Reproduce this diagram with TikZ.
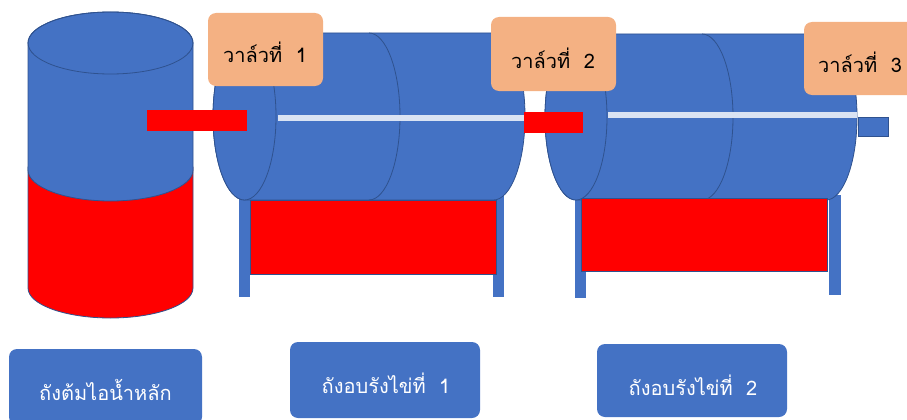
\documentclass[tikz,border=0pt]{standalone}
\usepackage{fontspec}
\newfontfamily\thaifont[Script=Thai]{Loma}
\definecolor{tankblue}{HTML}{4472C4}
\definecolor{edgeblue}{HTML}{2F528F}
\definecolor{heatred}{HTML}{FF0000}
\definecolor{tagorange}{HTML}{F4B183}
\definecolor{shaftgrey}{HTML}{DAE3F3}

\tikzset{
  shell/.style={fill=tankblue, draw=edgeblue, line width=0.8pt},
  lowshell/.style={fill=heatred, draw=edgeblue, line width=0.8pt},
  rim/.style={draw=edgeblue, line width=0.8pt},
  leg/.style={fill=tankblue},
  heater/.style={fill=heatred, draw=edgeblue, line width=0.8pt},
  pipe/.style={fill=heatred},
  outlet/.style={fill=tankblue, draw=edgeblue, line width=1pt},
  shaft/.style={draw=shaftgrey, line width=5.5pt},
  valvetag/.style={fill=tagorange, rounded corners=8pt, inner sep=0pt, outer sep=0pt},
  valvetext/.style={font=\thaifont\fontsize{20}{24}\selectfont, text=black, anchor=base, inner sep=0pt},
  namebox/.style={fill=tankblue, rounded corners=8pt, inner sep=0pt, outer sep=0pt},
  nametext/.style={font=\thaifont\fontsize{20}{24}\selectfont, text=white, anchor=base, inner sep=0pt},
}

\begin{document}
\begin{tikzpicture}[x=1pt, y=-1pt]
\clip (0,0) rectangle (907,420);

% main boiler: red lower drum, blue upper drum
\draw[lowshell] (28,167) -- (28,288)
  arc[start angle=180, end angle=360, x radius=82.5pt, y radius=30pt]
  -- (193,167) -- cycle;
\draw[shell] (28,43) -- (28,170)
  arc[start angle=180, end angle=360, x radius=82.5pt, y radius=31pt]
  -- (193,43)
  arc[start angle=0, end angle=180, x radius=82.5pt, y radius=31pt] -- cycle;
\draw[rim] (110.5,43) ellipse[x radius=82.5pt, y radius=31pt];

% incubation drum 1
\fill[leg] (239,190) rectangle (250,297);
\fill[leg] (493,190) rectangle (504,297);
\draw[shell] (244.5,33) -- (493.5,33)
  arc[start angle=90, end angle=-90, x radius=31.5pt, y radius=83.5pt]
  -- (244.5,200)
  arc[start angle=270, end angle=90, x radius=31.5pt, y radius=83.5pt] -- cycle;
\draw[shell] (244.5,116.5) ellipse[x radius=31.5pt, y radius=83.5pt];
\draw[rim] (369,33) arc[start angle=90, end angle=-90, x radius=31pt, y radius=83.5pt];
\draw[shaft] (278,118) -- (525,118);
\draw[heater] (250,200) rectangle (496,274);

% incubation drum 2
\fill[leg] (575,195) rectangle (586,298);
\fill[leg] (829,195) rectangle (841,295);
\draw[shell] (576,34) -- (826,34)
  arc[start angle=90, end angle=-90, x radius=31pt, y radius=83pt]
  -- (576,200)
  arc[start angle=270, end angle=90, x radius=31pt, y radius=83pt] -- cycle;
\draw[shell] (576,117) ellipse[x radius=31pt, y radius=83pt];
\draw[rim] (702,34) arc[start angle=90, end angle=-90, x radius=31pt, y radius=83pt];
\draw[shaft] (608,115) -- (857,115);
\draw[heater] (581,198) rectangle (827,271);

% steam pipes and outlet
\fill[pipe] (147,110) rectangle (247,131);
\fill[pipe] (524,112) rectangle (583,133);
\draw[outlet] (858,117) rectangle (888,136);

% valve tags
\node[valvetag, minimum width=115pt, minimum height=73pt] (tag1) at (265.5,49.5) {};
\node[valvetext] (tag1txt) at (265,63) {วาล์วที่\ \ 1};
\node[valvetag, minimum width=125pt, minimum height=74pt] (tag2) at (553.5,54) {};
\node[valvetext] (tag2txt) at (553,68) {วาล์วที่\ \ 2};
\node[valvetag, minimum width=112pt, minimum height=73pt] (tag3) at (860,58.5) {};
\node[valvetext] (tag3txt) at (860,72) {วาล์วที่\ \ 3};

% name boxes
\node[namebox, minimum width=193pt, minimum height=76pt] (box1) at (105.5,387) {};
\node[nametext] (box1txt) at (105.5,400) {ถังต้มไอน้ำหลัก};
\node[namebox, minimum width=190pt, minimum height=76pt] (box2) at (385,380) {};
\node[nametext] (box2txt) at (386,393) {ถังอบรังไข่ที่\ \ 1};
\node[namebox, minimum width=190pt, minimum height=73pt] (box3) at (692,380.5) {};
\node[nametext] (box3txt) at (693,395) {ถังอบรังไข่ที่\ \ 2};
\end{tikzpicture}
\end{document}
